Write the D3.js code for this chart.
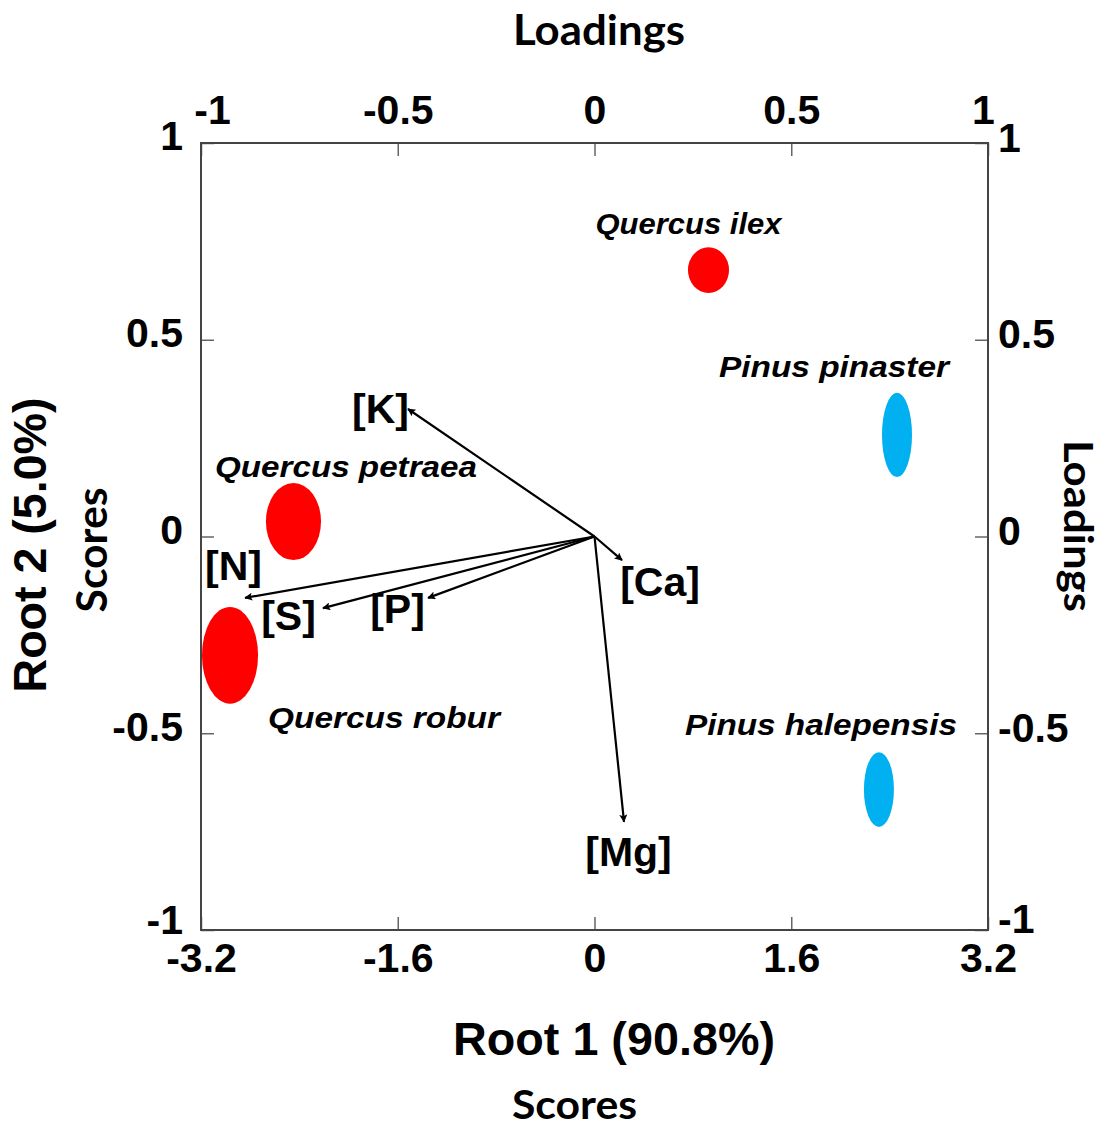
<!DOCTYPE html>
<html><head><meta charset="utf-8">
<script src="https://cdn.jsdelivr.net/npm/d3@7"></script>
<style>body{margin:0;background:#fff}svg{display:block}</style>
</head><body>
<svg id="chart" width="1104" height="1127"></svg>
<script>
// ---- data ----
const species = ["Quercus ilex","Quercus petraea","Quercus robur","Pinus pinaster","Pinus halepensis"];
const genus = ["Quercus","Quercus","Quercus","Pinus","Pinus"];
const root1Scores = [0.927,-2.448,-2.964,2.460,2.313];
const root2Scores = [0.677,0.038,-0.302,0.258,-0.643];
const root1Spread = [0.167,0.224,0.228,0.122,0.122];
const root2Spread = [0.058,0.098,0.123,0.107,0.095];

const elements = ["[K]","[N]","[S]","[P]","[Ca]","[Mg]"];
const root1Loadings = [-0.474,-0.888,-0.690,-0.423,0.070,0.075];
const root2Loadings = [0.324,-0.156,-0.182,-0.156,-0.060,-0.725];

const scoreTicksX = [-3.2,-1.6,0,1.6,3.2];
const loadingTicks = [-1,-0.5,0,0.5,1];
const scoreTicksY = [-1,-0.5,0,0.5,1];

// ---- layout / style ----
const L=201,R=988,T=143,B=930;
const colors = {Quercus:"#ff0000", Pinus:"#00b0f0"};
const speciesLabelOffset = [[-20,-36],[52.5,-44.5],[154,72.5],[-63,-58],[-58,-54.5]];
const speciesLabelWidth = [186,262,232,230,272];
const elementLabelOffset = [[-27.5,14],[-11.5,-18],[-34.5,22],[-30.5,25],[38,36],[4.5,44]];
const ARIAL = "'Liberation Sans', Arial, sans-serif";
const CAL = "Lato, 'Open Sans', sans-serif";

const svg = d3.select("#chart");
const xS = d3.scaleLinear().domain([-3.2,3.2]).range([L,R]);
const yS = d3.scaleLinear().domain([-1,1]).range([B,T]);
const xL = d3.scaleLinear().domain([-1,1]).range([L,R]);
const yL = d3.scaleLinear().domain([-1,1]).range([B,T]);

const fmt = d => String(d);

function styleAxis(g){
  g.select(".domain").remove();
  g.selectAll(".tick line").attr("stroke","#666").attr("stroke-width",1.5);
  g.selectAll(".tick text").attr("fill","#000").attr("font-family",ARIAL)
   .attr("font-weight","bold").attr("font-size",41);
}

// bottom axis (scores)
svg.append("g").attr("transform",`translate(0,${B})`)
  .call(d3.axisBottom(xS).tickValues(scoreTicksX).tickSizeInner(-13).tickSizeOuter(0).tickPadding(13).tickFormat(fmt))
  .call(styleAxis);
// top axis (loadings)
svg.append("g").attr("transform",`translate(0,${T})`)
  .call(d3.axisTop(xL).tickValues(loadingTicks).tickSizeInner(-13).tickSizeOuter(0).tickPadding(19).tickFormat(fmt))
  .call(styleAxis)
  .call(g=>g.selectAll(".tick text").attr("dx",d=>d===-1?11:(d===1?-5:0)));
// left axis (scores)
svg.append("g").attr("transform",`translate(${L},0)`)
  .call(d3.axisLeft(yS).tickValues(scoreTicksY).tickSizeInner(-13).tickSizeOuter(0).tickPadding(18).tickFormat(fmt))
  .call(styleAxis)
  .call(g=>g.selectAll(".tick text").attr("dy",d=>d===-1?"0.08em":"0.17em"));
// right axis (loadings)
svg.append("g").attr("transform",`translate(${R},0)`)
  .call(d3.axisRight(yL).tickValues(loadingTicks).tickSizeInner(-13).tickSizeOuter(0).tickPadding(10).tickFormat(fmt))
  .call(styleAxis)
  .call(g=>g.selectAll(".tick text").attr("dy",d=>d===-1?"0.05em":"0.2em"));

// frame
svg.append("rect").attr("x",L).attr("y",T).attr("width",R-L).attr("height",B-T)
  .attr("fill","none").attr("stroke","#444").attr("stroke-width",2);

// ellipses
species.forEach((s,i)=>{
  const cx=xS(root1Scores[i]), cy=yS(root2Scores[i]);
  svg.append("ellipse").attr("cx",cx).attr("cy",cy)
    .attr("rx",xS(root1Spread[i])-xS(0)).attr("ry",yS(0)-yS(root2Spread[i]))
    .attr("fill",colors[genus[i]]);
  svg.append("text").attr("x",cx+speciesLabelOffset[i][0]).attr("y",cy+speciesLabelOffset[i][1])
    .attr("text-anchor","middle").attr("font-family",ARIAL).attr("font-weight","bold")
    .attr("font-style","italic").attr("font-size",29)
    .attr("textLength",speciesLabelWidth[i]).attr("lengthAdjust","spacingAndGlyphs")
    .text(s);
});

// arrows
svg.append("defs").append("marker").attr("id","ah").attr("viewBox","0 0 10 10")
  .attr("refX",9).attr("refY",5).attr("markerWidth",10).attr("markerHeight",8)
  .attr("markerUnits","userSpaceOnUse").attr("orient","auto")
  .append("path").attr("d","M0,0L10,5L0,10L2,5Z").attr("fill","#000");

elements.forEach((e,i)=>{
  const x2=xL(root1Loadings[i]), y2=yL(root2Loadings[i]);
  svg.append("line").attr("x1",xL(0)).attr("y1",yL(0)).attr("x2",x2).attr("y2",y2)
    .attr("stroke","#000").attr("stroke-width",2.2).attr("marker-end","url(#ah)");
  svg.append("text").attr("x",x2+elementLabelOffset[i][0]).attr("y",y2+elementLabelOffset[i][1])
    .attr("text-anchor","middle").attr("font-family",ARIAL).attr("font-weight","bold")
    .attr("font-size",41).text(e);
});

// titles
svg.append("text").attr("x",599).attr("y",45).attr("text-anchor","middle")
  .attr("font-family",CAL).attr("font-weight","bold").attr("font-size",42)
  .attr("textLength",172).attr("lengthAdjust","spacingAndGlyphs").text("Loadings");
svg.append("text").attr("x",614).attr("y",1055).attr("text-anchor","middle")
  .attr("font-family",ARIAL).attr("font-weight","bold").attr("font-size",46)
  .attr("textLength",322).attr("lengthAdjust","spacingAndGlyphs").text("Root 1 (90.8%)");
svg.append("text").attr("x",574.5).attr("y",1119).attr("text-anchor","middle")
  .attr("font-family",CAL).attr("font-weight","bold").attr("font-size",41)
  .attr("textLength",125).attr("lengthAdjust","spacingAndGlyphs").text("Scores");
svg.append("text").attr("transform","translate(46,545) rotate(-90)").attr("text-anchor","middle")
  .attr("font-family",ARIAL).attr("font-weight","bold").attr("font-size",46)
  .attr("textLength",295).attr("lengthAdjust","spacingAndGlyphs").text("Root 2 (5.0%)");
svg.append("text").attr("transform","translate(107,550) rotate(-90)").attr("text-anchor","middle")
  .attr("font-family",CAL).attr("font-weight","bold").attr("font-size",42)
  .attr("textLength",125).attr("lengthAdjust","spacingAndGlyphs").text("Scores");
svg.append("text").attr("transform","translate(1064,526) rotate(90)").attr("text-anchor","middle")
  .attr("font-family",CAL).attr("font-weight","bold").attr("font-size",40)
  .attr("textLength",172).attr("lengthAdjust","spacingAndGlyphs").text("Loadings");
</script>
</body></html>
